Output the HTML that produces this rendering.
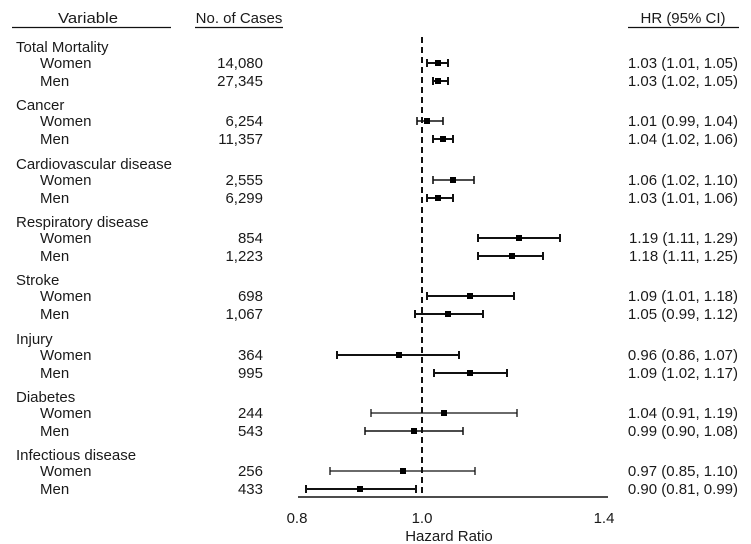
<!DOCTYPE html>
<html><head><meta charset="utf-8"><style>
html,body{margin:0;padding:0;background:#fff;}
svg{display:block;}
text{font-family:"Liberation Sans",Arial,sans-serif;font-size:15px;fill:#1a1a1a;}
.n{text-anchor:end;}
line{stroke:#111;}
</style></head><body>
<svg width="751" height="544" viewBox="0 0 751 544">
<text x="88" y="23" text-anchor="middle" textLength="60" lengthAdjust="spacingAndGlyphs">Variable</text>
<line x1="12" y1="27.5" x2="171" y2="27.5" stroke-width="1.2"/>
<text x="239" y="23" text-anchor="middle">No. of Cases</text>
<line x1="195" y1="27.5" x2="283" y2="27.5" stroke-width="1.2"/>
<text x="683" y="23" text-anchor="middle">HR (95% CI)</text>
<line x1="628" y1="27.5" x2="739" y2="27.5" stroke-width="1.2"/>

<line x1="422" y1="37" x2="422" y2="497" stroke-width="2" stroke-dasharray="6,4"/>
<line x1="298" y1="497" x2="608" y2="497" stroke-width="1.5"/>
<text x="297" y="523" text-anchor="middle">0.8</text>
<text x="422" y="523" text-anchor="middle">1.0</text>
<text x="604" y="523" text-anchor="middle">1.4</text>
<text x="449" y="541" text-anchor="middle">Hazard Ratio</text>

<g id="rows">
<text x="16" y="52">Total Mortality</text>
<text x="40" y="68">Women</text><text class="n" x="263" y="68">14,080</text><text class="n" x="738" y="68">1.03 (1.01, 1.05)</text>
<text x="40" y="86">Men</text><text class="n" x="263" y="86">27,345</text><text class="n" x="738" y="86">1.03 (1.02, 1.05)</text>
<text x="16" y="110">Cancer</text>
<text x="40" y="126">Women</text><text class="n" x="263" y="126">6,254</text><text class="n" x="738" y="126">1.01 (0.99, 1.04)</text>
<text x="40" y="144">Men</text><text class="n" x="263" y="144">11,357</text><text class="n" x="738" y="144">1.04 (1.02, 1.06)</text>
<text x="16" y="169">Cardiovascular disease</text>
<text x="40" y="185">Women</text><text class="n" x="263" y="185">2,555</text><text class="n" x="738" y="185">1.06 (1.02, 1.10)</text>
<text x="40" y="203">Men</text><text class="n" x="263" y="203">6,299</text><text class="n" x="738" y="203">1.03 (1.01, 1.06)</text>
<text x="16" y="227">Respiratory disease</text>
<text x="40" y="243">Women</text><text class="n" x="263" y="243">854</text><text class="n" x="738" y="243">1.19 (1.11, 1.29)</text>
<text x="40" y="261">Men</text><text class="n" x="263" y="261">1,223</text><text class="n" x="738" y="261">1.18 (1.11, 1.25)</text>
<text x="16" y="285">Stroke</text>
<text x="40" y="301">Women</text><text class="n" x="263" y="301">698</text><text class="n" x="738" y="301">1.09 (1.01, 1.18)</text>
<text x="40" y="319">Men</text><text class="n" x="263" y="319">1,067</text><text class="n" x="738" y="319">1.05 (0.99, 1.12)</text>
<text x="16" y="344">Injury</text>
<text x="40" y="360">Women</text><text class="n" x="263" y="360">364</text><text class="n" x="738" y="360">0.96 (0.86, 1.07)</text>
<text x="40" y="378">Men</text><text class="n" x="263" y="378">995</text><text class="n" x="738" y="378">1.09 (1.02, 1.17)</text>
<text x="16" y="402">Diabetes</text>
<text x="40" y="418">Women</text><text class="n" x="263" y="418">244</text><text class="n" x="738" y="418">1.04 (0.91, 1.19)</text>
<text x="40" y="436">Men</text><text class="n" x="263" y="436">543</text><text class="n" x="738" y="436">0.99 (0.90, 1.08)</text>
<text x="16" y="460">Infectious disease</text>
<text x="40" y="476">Women</text><text class="n" x="263" y="476">256</text><text class="n" x="738" y="476">0.97 (0.85, 1.10)</text>
<text x="40" y="494">Men</text><text class="n" x="263" y="494">433</text><text class="n" x="738" y="494">0.90 (0.81, 0.99)</text>
</g>

<g stroke="#111">
<g stroke-width="2"><line x1="427" y1="63" x2="448" y2="63"/><line x1="427" y1="59" x2="427" y2="67"/><line x1="448" y1="59" x2="448" y2="67"/></g><rect x="435" y="60" width="6" height="6" fill="#000" stroke="none"/>
<g stroke-width="2"><line x1="433" y1="81" x2="448" y2="81"/><line x1="433" y1="77" x2="433" y2="85"/><line x1="448" y1="77" x2="448" y2="85"/></g><rect x="435" y="78" width="6" height="6" fill="#000" stroke="none"/>

<g stroke-width="1.6"><line x1="417" y1="121" x2="443" y2="121"/><line x1="417" y1="117" x2="417" y2="125"/><line x1="443" y1="117" x2="443" y2="125"/></g><rect x="424" y="118" width="6" height="6" fill="#000" stroke="none"/>
<g stroke-width="2"><line x1="433" y1="139" x2="453" y2="139"/><line x1="433" y1="135" x2="433" y2="143"/><line x1="453" y1="135" x2="453" y2="143"/></g><rect x="440" y="136" width="6" height="6" fill="#000" stroke="none"/>

<g stroke-width="1.6"><line x1="433" y1="180" x2="474" y2="180"/><line x1="433" y1="176" x2="433" y2="184"/><line x1="474" y1="176" x2="474" y2="184"/></g><rect x="450" y="177" width="6" height="6" fill="#000" stroke="none"/>
<g stroke-width="2"><line x1="427" y1="198" x2="453" y2="198"/><line x1="427" y1="194" x2="427" y2="202"/><line x1="453" y1="194" x2="453" y2="202"/></g><rect x="435" y="195" width="6" height="6" fill="#000" stroke="none"/>

<g stroke-width="2"><line x1="478" y1="238" x2="560" y2="238"/><line x1="478" y1="234" x2="478" y2="242"/><line x1="560" y1="234" x2="560" y2="242"/></g><rect x="516" y="235" width="6" height="6" fill="#000" stroke="none"/>
<g stroke-width="2"><line x1="478" y1="256" x2="543" y2="256"/><line x1="478" y1="252" x2="478" y2="260"/><line x1="543" y1="252" x2="543" y2="260"/></g><rect x="509" y="253" width="6" height="6" fill="#000" stroke="none"/>

<g stroke-width="2"><line x1="427" y1="296" x2="514" y2="296"/><line x1="427" y1="292" x2="427" y2="300"/><line x1="514" y1="292" x2="514" y2="300"/></g><rect x="467" y="293" width="6" height="6" fill="#000" stroke="none"/>
<g stroke-width="2"><line x1="415" y1="314" x2="483" y2="314"/><line x1="415" y1="310" x2="415" y2="318"/><line x1="483" y1="310" x2="483" y2="318"/></g><rect x="445" y="311" width="6" height="6" fill="#000" stroke="none"/>

<g stroke-width="2"><line x1="337" y1="355" x2="459" y2="355"/><line x1="337" y1="351" x2="337" y2="359"/><line x1="459" y1="351" x2="459" y2="359"/></g><rect x="396" y="352" width="6" height="6" fill="#000" stroke="none"/>
<g stroke-width="2"><line x1="434" y1="373" x2="507" y2="373"/><line x1="434" y1="369" x2="434" y2="377"/><line x1="507" y1="369" x2="507" y2="377"/></g><rect x="467" y="370" width="6" height="6" fill="#000" stroke="none"/>

<g stroke-width="1.3"><line x1="371" y1="413" x2="517" y2="413"/><line x1="371" y1="409" x2="371" y2="417"/><line x1="517" y1="409" x2="517" y2="417"/></g><rect x="441" y="410" width="6" height="6" fill="#000" stroke="none"/>
<g stroke-width="1.5"><line x1="365" y1="431" x2="463" y2="431"/><line x1="365" y1="427" x2="365" y2="435"/><line x1="463" y1="427" x2="463" y2="435"/></g><rect x="411" y="428" width="6" height="6" fill="#000" stroke="none"/>

<g stroke-width="1.3"><line x1="330" y1="471" x2="475" y2="471"/><line x1="330" y1="467" x2="330" y2="475"/><line x1="475" y1="467" x2="475" y2="475"/></g><rect x="400" y="468" width="6" height="6" fill="#000" stroke="none"/>
<g stroke-width="2"><line x1="306" y1="489" x2="416" y2="489"/><line x1="306" y1="485" x2="306" y2="493"/><line x1="416" y1="485" x2="416" y2="493"/></g><rect x="357" y="486" width="6" height="6" fill="#000" stroke="none"/>
</g>
</svg>
</body></html>
